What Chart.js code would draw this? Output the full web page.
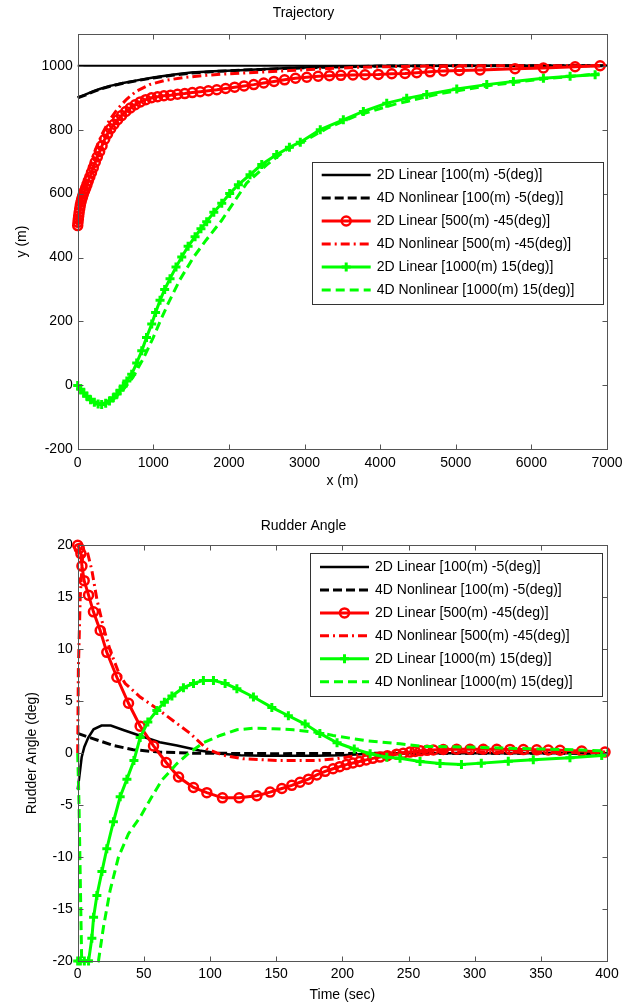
<!DOCTYPE html>
<html>
<head>
<meta charset="utf-8">
<script src="https://cdn.jsdelivr.net/npm/chart.js@4.4.0/dist/chart.umd.min.js"></script>
<style>
  html, body { margin: 0; padding: 0; background: #fff; }
  #wrap { position: relative; width: 633px; height: 1006px; }
  .box { position: absolute; left: 0; width: 633px; }
  #box1 { top: 0; height: 490px; }
  #box2 { top: 490px; height: 516px; }
</style>
</head>
<body>
<div id="wrap">
  <div class="box" id="box1"><canvas id="trajChart"></canvas></div>
  <div class="box" id="box2"><canvas id="rudderChart"></canvas></div>
</div>
<script>
// legend names (same for both plots)
const seriesNames = [
  '2D Linear [100(m) -5(deg)]',
  '4D Nonlinear [100(m) -5(deg)]',
  '2D Linear [500(m) -45(deg)]',
  '4D Nonlinear [500(m) -45(deg)]',
  '2D Linear [1000(m) 15(deg)]',
  '4D Nonlinear [1000(m) 15(deg)]'
];

// ---- Trajectory: x (m) / y (m) ----
const trajTicksX = [0, 1000, 2000, 3000, 4000, 5000, 6000, 7000];
const trajTicksY = [-200, 0, 200, 400, 600, 800, 1000];

const refPathX = [0, 7000];
const refPathY = [1000, 1000];

const trajLin100X = [0, 100, 200, 300, 430, 600, 800, 1000, 1250, 1500, 1800, 2150, 2500, 2800, 3200, 3600, 4000, 5000, 6000, 7000];
const trajLin100Y = [900, 910, 920, 928, 937, 946, 955, 963, 972, 979, 983, 986, 990, 993, 996, 998, 999, 1000, 1000, 1000];
const trajNon100X = [0, 100, 200, 300, 430, 600, 800, 1000, 1250, 1500, 1800, 2150, 2500, 2800, 3200, 3600, 4000, 5000, 6000, 7000];
const trajNon100Y = [900, 908, 918, 927, 936, 945, 954, 962, 970, 977, 982, 986, 989, 992, 995, 997, 999, 1000, 1000, 1000];

const trajLin500X = [0, 4, 8, 13, 19, 26, 34, 43, 53, 64, 76, 90, 105, 122, 140, 160, 182, 206, 232, 260, 290, 322, 357, 395, 436, 480, 528, 580, 636, 696, 760, 828, 900, 976, 1056, 1140, 1228, 1320, 1416, 1516, 1620, 1728, 1840, 1956, 2076, 2200, 2328, 2460, 2596, 2736, 2880, 3030, 3180, 3330, 3480, 3640, 3800, 3976, 4153, 4329, 4484, 4660, 4836, 5048, 5321, 5784, 6159, 6578, 6909];
const trajLin500Y = [500, 510, 520, 530, 541, 552, 563, 573, 582, 591, 600, 608, 617, 628, 640, 652, 666, 681, 698, 715, 732, 750, 770, 787, 803, 817, 831, 844, 857, 868, 878, 887, 894, 900, 903, 906, 908, 911, 913, 916, 919, 922, 925, 929, 933, 937, 941, 946, 951, 956, 961, 964, 967, 969, 970, 971, 972, 973, 975, 976, 978, 981, 984, 985, 987, 991, 993, 997, 1000];
const trajNon500X = [0, 30, 80, 150, 230, 320, 420, 530, 650, 780, 950, 1150, 1400, 1700, 2000, 2400, 2800, 3200, 3700, 4300, 5000, 6000, 7000];
const trajNon500Y = [500, 560, 618, 678, 735, 785, 830, 866, 896, 921, 941, 954, 963, 970, 975, 980, 985, 990, 995, 998, 1000, 1000, 1000];

const trajLin1000X = [0, 40, 80, 120, 170, 220, 270, 317, 370, 420, 471, 520, 560, 603, 650, 714, 780, 847, 910, 979, 1030, 1089, 1150, 1221, 1300, 1376, 1460, 1552, 1630, 1706, 1800, 1905, 2010, 2125, 2279, 2434, 2632, 2800, 2944, 3208, 3513, 3778, 4087, 4351, 4616, 5013, 5410, 5762, 6159, 6512, 6843];
const trajLin1000Y = [0, -12, -24, -34, -45, -53, -58, -60, -56, -49, -39, -27, -15, -2, 14, 35, 70, 108, 150, 192, 228, 266, 300, 334, 370, 402, 435, 465, 490, 512, 542, 570, 600, 628, 659, 691, 722, 745, 761, 800, 831, 857, 883, 898, 910, 927, 941, 951, 961, 967, 972];
const trajNon1000X = [0, 120, 320, 480, 620, 730, 870, 1000, 1089, 1200, 1350, 1529, 1700, 1900, 2235, 2500, 2764, 3000, 3300, 3700, 4200, 4800, 5500, 6200, 6900];
const trajNon1000Y = [0, -34, -60, -42, -8, 25, 85, 150, 200, 258, 330, 400, 455, 515, 633, 690, 738, 765, 805, 845, 880, 913, 940, 960, 975];

// ---- Rudder angle: time (sec) / angle (deg) ----
const rudTicksX = [0, 50, 100, 150, 200, 250, 300, 350, 400];
const rudTicksY = [-20, -15, -10, -5, 0, 5, 10, 15, 20];

const rudLin100T = [0, 1, 3, 5, 8, 12, 18, 25, 35, 50, 62, 75, 92, 108, 123, 140, 180, 200, 220, 240, 300, 400];
const rudLin100A = [-3.5, -2.5, -0.4, 0.6, 1.5, 2.3, 2.65, 2.65, 2.2, 1.55, 1.05, 0.74, 0.26, -0.06, -0.2, -0.25, -0.25, -0.2, -0.05, 0, 0, 0];
const rudNon100T = [0, 12, 27, 42, 62, 87, 150, 250, 400];
const rudNon100A = [1.9, 1.38, 0.74, 0.33, 0.1, 0, -0.05, 0, 0];

const rudLin500T = [0, 1.2, 2.4, 3.2, 4.9, 8.2, 11.9, 17, 22, 29.6, 38.4, 47.2, 57.3, 66.9, 76.2, 87.5, 97.6, 109.4, 122, 135.4, 145.4, 154.3, 161.8, 168, 174.4, 180.7, 187, 193, 198, 203, 208, 213, 218, 223, 228.5, 234, 241, 246, 251, 255, 259, 264, 268.8, 276.3, 286.4, 296.5, 306.5, 316.7, 326.7, 336.8, 346.9, 355.6, 364.5, 380.9, 398.5];
const rudLin500A = [20, 19.7, 19.2, 18.0, 16.6, 15.2, 13.6, 11.8, 9.7, 7.3, 4.8, 2.6, 0.7, -0.9, -2.3, -3.3, -3.8, -4.3, -4.3, -4.1, -3.75, -3.4, -3.1, -2.8, -2.5, -2.1, -1.75, -1.5, -1.3, -1.1, -0.95, -0.8, -0.65, -0.5, -0.38, -0.25, -0.1, 0, 0.1, 0.17, 0.22, 0.27, 0.3, 0.35, 0.38, 0.38, 0.38, 0.38, 0.36, 0.34, 0.32, 0.3, 0.28, 0.2, 0.1];
const rudNon500T = [0, 0.5, 1.9, 4, 7, 10.7, 14.5, 19.5, 24.5, 30.8, 35.9, 47.2, 59.8, 72.4, 85, 97.6, 110, 125, 150.5, 181, 195, 205, 215, 230, 260, 300, 400];
const rudNon500A = [0, 8, 15, 19.5, 19.5, 17.6, 14.8, 12.1, 9.9, 7.8, 6.7, 5.4, 4.3, 3.1, 1.9, 0.4, -0.2, -0.54, -0.7, -0.7, -0.55, -0.35, -0.15, 0, 0.1, 0.1, 0.05];

const rudLin1000T = [0, 2, 5, 8.2, 10.7, 12, 14.5, 18.3, 22, 27, 32.1, 37.2, 42.5, 47.2, 53, 59.8, 65.5, 71.2, 79.9, 87.5, 95, 102.6, 111.4, 120.3, 132.8, 146.7, 159.2, 171.9, 183, 196, 209, 221, 233.6, 243.6, 258.7, 273.8, 290, 305, 325.4, 344.3, 372, 396];
const rudLin1000A = [-20, -20, -20, -20, -17.8, -15.8, -13.7, -11.4, -9.2, -6.6, -4.2, -2.5, -0.7, 1.5, 3.0, 4.1, 4.9, 5.5, 6.3, 6.7, 7.0, 7.0, 6.7, 6.2, 5.4, 4.4, 3.6, 2.8, 1.9, 1.0, 0.4, -0.06, -0.4, -0.5, -0.8, -1.0, -1.1, -0.96, -0.77, -0.64, -0.45, -0.22];
const rudNon1000T = [0, 1, 3, 15.7, 19.5, 24.5, 30.8, 38.4, 47.2, 56, 63.6, 75, 85, 95, 107.6, 120.3, 132.8, 148, 163, 181, 193, 218, 243.6, 260, 290, 320, 350, 380, 400];
const rudNon1000A = [0, -5, -20, -20, -16.7, -13.2, -10.0, -7.75, -6.15, -4.2, -2.6, -1.0, 0.1, 1.0, 1.7, 2.25, 2.4, 2.35, 2.25, 2.0, 1.7, 1.2, 0.9, 0.65, 0.6, 0.5, 0.4, 0.3, 0.2];

// line styles, one per legend entry
const styles = [
  { color: '#000000', width: 2.5, dash: [], marker: null },
  { color: '#000000', width: 3, dash: [9, 4], marker: null },
  { color: '#ff0000', width: 3, dash: [], marker: 'circle' },
  { color: '#ff0000', width: 3, dash: [9, 4, 2, 4], marker: null },
  { color: '#00ff00', width: 3, dash: [], marker: 'cross' },
  { color: '#00ff00', width: 3, dash: [9, 5], marker: null }
];

Chart.defaults.font.family = '"Liberation Sans", Arial, Helvetica, sans-serif';
Chart.defaults.font.size = 14;
Chart.defaults.color = '#000';

function pts(xs, ys) {
  return xs.map((x, i) => ({ x: x, y: ys[i] }));
}

function buildDatasets(xsList, ysList) {
  return xsList.map((xs, i) => {
    const st = styles[i];
    return {
      label: seriesNames[i],
      data: pts(xs, ysList[i]),
      borderColor: st.color,
      borderWidth: st.width,
      borderDash: st.dash,
      pointStyle: st.marker || 'circle',
      pointRadius: st.marker ? 4.5 : 0,
      pointBorderWidth: st.marker === 'cross' ? 3 : 2.5,
      pointBorderColor: st.color,
      pointBackgroundColor: 'rgba(0,0,0,0)',
      fill: false,
      tension: 0,
      clip: false,
      order: xsList.length - i
    };
  });
}

// matlab style box, inward ticks and the in-axes legend
const framePlugin = {
  id: 'matlabFrame',
  afterDatasetsDraw(chart, args, opts) {
    const { ctx, chartArea: a } = chart;
    const xs = chart.scales.x, ys = chart.scales.y;
    const L = Math.round(a.left) + 0.5, R = Math.round(a.right) + 0.5;
    const T = Math.round(a.top) + 0.5, B = Math.round(a.bottom) + 0.5;
    ctx.save();
    ctx.strokeStyle = '#555';
    ctx.lineWidth = 1;
    ctx.setLineDash([]);
    ctx.strokeRect(L, T, R - L, B - T);
    ctx.beginPath();
    xs.ticks.forEach(t => {
      const p = Math.round(xs.getPixelForValue(t.value)) + 0.5;
      ctx.moveTo(p, B); ctx.lineTo(p, B - 5);
      ctx.moveTo(p, T); ctx.lineTo(p, T + 5);
    });
    ys.ticks.forEach(t => {
      const p = Math.round(ys.getPixelForValue(t.value)) + 0.5;
      ctx.moveTo(L, p); ctx.lineTo(L + 5, p);
      ctx.moveTo(R, p); ctx.lineTo(R - 5, p);
    });
    ctx.stroke();

    // legend
    const lg = opts.legend;
    ctx.fillStyle = '#fff';
    ctx.fillRect(lg.left, lg.top, lg.width, lg.height);
    ctx.strokeStyle = '#333';
    ctx.strokeRect(Math.round(lg.left) + 0.5, Math.round(lg.top) + 0.5, Math.round(lg.width), Math.round(lg.height));
    ctx.font = '14px "Liberation Sans", Arial, sans-serif';
    ctx.textBaseline = 'middle';
    ctx.textAlign = 'left';
    chart.data.datasets.forEach(ds => {
      const i = seriesNames.indexOf(ds.label);
      if (i < 0) return;
      const st = styles[i];
      const yRow = lg.top + lg.firstRow + i * lg.rowGap;
      const x0 = lg.left + 10, x1 = lg.left + 59;
      ctx.strokeStyle = st.color;
      ctx.lineWidth = st.width;
      ctx.setLineDash(st.dash);
      ctx.beginPath();
      ctx.moveTo(x0, yRow); ctx.lineTo(x1, yRow);
      ctx.stroke();
      ctx.setLineDash([]);
      const xm = (x0 + x1) / 2;
      if (st.marker === 'circle') {
        ctx.lineWidth = 2.5;
        ctx.beginPath(); ctx.arc(xm, yRow, 4.5, 0, Math.PI * 2); ctx.stroke();
      } else if (st.marker === 'cross') {
        ctx.lineWidth = 3;
        ctx.beginPath();
        ctx.moveTo(xm - 4.5, yRow); ctx.lineTo(xm + 4.5, yRow);
        ctx.moveTo(xm, yRow - 4.5); ctx.lineTo(xm, yRow + 4.5);
        ctx.stroke();
      }
      ctx.fillStyle = '#000';
      ctx.fillText(ds.label, lg.left + 65, yRow);
    });
    ctx.restore();
  }
};

function makeChart(id, cfg) {
  const datasets = (cfg.extra || []).concat(buildDatasets(cfg.xs, cfg.ys));
  return new Chart(document.getElementById(id), {
    type: 'line',
    data: { datasets: datasets },
    plugins: [framePlugin],
    options: {
      responsive: true,
      maintainAspectRatio: false,
      animation: false,
      events: [],
      layout: { padding: { left: 0, right: 26, top: 0, bottom: 0 } },
      plugins: {
        legend: { display: false },
        tooltip: { enabled: false },
        title: {
          display: true,
          text: cfg.title,
          color: '#000',
          font: { size: 14, weight: 'normal' },
          padding: cfg.titlePad
        },
        matlabFrame: { legend: cfg.legend }
      },
      scales: {
        x: {
          type: 'linear',
          min: cfg.xTicks[0],
          max: cfg.xTicks[cfg.xTicks.length - 1],
          afterBuildTicks: s => { s.ticks = cfg.xTicks.map(v => ({ value: v })); },
          afterFit: s => { s.height = cfg.xAxisHeight; },
          grid: { display: false, drawTicks: false },
          border: { display: false },
          ticks: { padding: 5, maxRotation: 0, autoSkip: false, color: '#000', callback: v => String(v) },
          title: { display: true, text: cfg.xTitle, color: '#000', padding: { top: 0, bottom: cfg.xTitlePad } }
        },
        y: {
          type: 'linear',
          min: cfg.yMin,
          max: cfg.yMax,
          afterBuildTicks: s => { s.ticks = cfg.yTicks.map(v => ({ value: v })); },
          afterFit: s => { s.width = 77.7; },
          grid: { display: false, drawTicks: false },
          border: { display: false },
          ticks: { padding: 5, autoSkip: false, color: '#000', callback: v => String(v) },
          title: { display: true, text: cfg.yTitle, color: '#000', padding: { top: cfg.yTitlePad, bottom: 0 } }
        }
      }
    }
  });
}

// desired path at y = 1000 (not in legend)
const refPath = {
  data: pts(refPathX, refPathY),
  borderColor: '#000',
  borderWidth: 2,
  pointRadius: 0,
  fill: false,
  clip: false,
  order: 10
};

makeChart('trajChart', {
  title: 'Trajectory',
  titlePad: { top: 5, bottom: 12 },
  xTitle: 'x (m)', xTitlePad: 0, xAxisHeight: 40.7,
  yTitle: 'y (m)', yTitlePad: 14,
  xTicks: trajTicksX, yTicks: trajTicksY, yMin: -200, yMax: 1100,
  extra: [refPath],
  xs: [trajLin100X, trajNon100X, trajLin500X, trajNon500X, trajLin1000X, trajNon1000X],
  ys: [trajLin100Y, trajNon100Y, trajLin500Y, trajNon500Y, trajLin1000Y, trajNon1000Y],
  legend: { left: 311.7, top: 162.3, width: 291.3, height: 142, firstRow: 12.7, rowGap: 23 }
});

makeChart('rudderChart', {
  title: 'Rudder Angle',
  titlePad: { top: 27.6, bottom: 10.9 },
  xTitle: 'Time (sec)', xTitlePad: 2.6, xAxisHeight: 45,
  yTitle: 'Rudder Angle (deg)', yTitlePad: 24,
  xTicks: rudTicksX, yTicks: rudTicksY, yMin: -20, yMax: 20,
  xs: [rudLin100T, rudNon100T, rudLin500T, rudNon500T, rudLin1000T, rudNon1000T],
  ys: [rudLin100A, rudNon100A, rudLin500A, rudNon500A, rudLin1000A, rudNon1000A],
  legend: { left: 310, top: 63.3, width: 292, height: 143.4, firstRow: 13.7, rowGap: 22.95 }
});
</script>
</body>
</html>
